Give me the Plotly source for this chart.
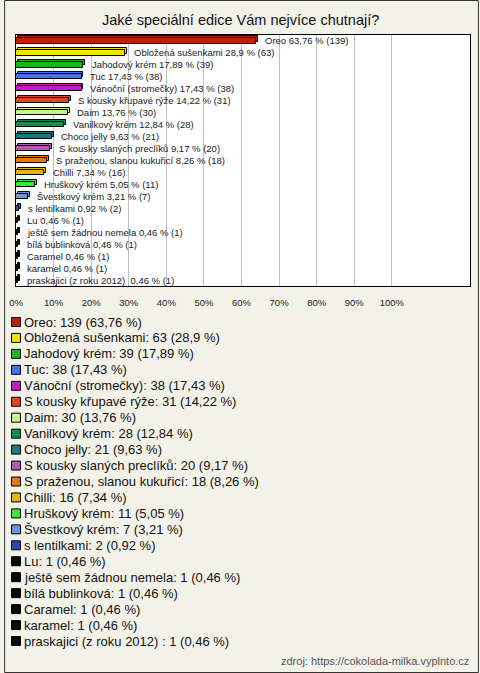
import plotly.graph_objects as go

# ---------------- data ----------------
names = [
    "Oreo", "Obložená sušenkami", "Jahodový krém", "Tuc", "Vánoční (stromečky)",
    "S kousky křupavé rýže", "Daim", "Vanilkový krém", "Choco jelly",
    "S kousky slaných preclíků", "S praženou, slanou kukuřicí", "Chilli",
    "Hruškový krém", "Švestkový krém", "s lentilkami", "Lu",
    "ještě sem žádnou nemela", "bílá bublinková", "Caramel", "karamel",
    "praskajici (z roku 2012) ",
]
counts = [139, 63, 39, 38, 38, 31, 30, 28, 21, 20, 18, 16, 11, 7, 2, 1, 1, 1, 1, 1, 1]
percents = [63.76, 28.9, 17.89, 17.43, 17.43, 14.22, 13.76, 12.84, 9.63, 9.17,
            8.26, 7.34, 5.05, 3.21, 0.92, 0.46, 0.46, 0.46, 0.46, 0.46, 0.46]
colors = [
    "#bf1e0b", "#f5e600", "#19b719", "#4a6ef0", "#c41ac4", "#e2461a", "#c8f58c",
    "#148c50", "#1e7882", "#b45ab4", "#e6780f", "#e6b40f", "#3ce63c", "#6e96dc",
    "#2846b4", "#000000", "#000000", "#000000", "#000000", "#000000", "#000000",
]
tick_vals = [0, 10, 20, 30, 40, 50, 60, 70, 80, 90, 100]
tick_text = ["0%", "10%", "20%", "30%", "40%", "50%", "60%", "70%", "80%", "90%", "100%"]
title = "Jaké speciální edice Vám nejvíce chutnají?"
source = "zdroj: https://cokolada-milka.vyplnto.cz"

# ---------------- layout constants ----------------
W, H = 480, 673
PL, PR, PT, PB = 12, 471, 35, 286  # plot area in px
XMAX = 120.8
FONT = "Liberation Sans, Arial, sans-serif"
BG = "#f3f2e9"
depth = 2 / ((PR - PL) / XMAX)  # 2 px in axis units
bw = 0.44
dy = 0.17


def fmt(p):
    s = f"{p:.2f}".rstrip("0").rstrip(".")
    return s.replace(".", ",")


def xp(px):
    return (px - PL) / (PR - PL)


def yp(py):
    return (PB - py) / (PB - PT)


idx = list(range(len(names)))

fig = go.Figure()
# depth (back) bars
fig.add_trace(go.Bar(
    y=idx, x=percents, base=[depth] * len(idx), orientation="h",
    width=bw, offset=-bw / 2 - dy,
    marker=dict(color=colors, line=dict(color="#000000", width=1)),
    hoverinfo="skip", showlegend=False,
))
# front bars
fig.add_trace(go.Bar(
    y=idx, x=percents, orientation="h",
    width=bw, offset=-bw / 2,
    marker=dict(color=colors, line=dict(color="#000000", width=1)),
    showlegend=False,
))

annotations = []
for i, (n, c, p) in enumerate(zip(names, counts, percents)):
    annotations.append(dict(
        x=p + depth, y=i, xref="x", yref="y", xanchor="left", yanchor="middle",
        xshift=5, yshift=0, showarrow=False,
        text=f"{n} {fmt(p)} % ({c})",
        font=dict(family=FONT, size=9.5, color="#1a1a1a"),
    ))

shapes = []
# legend
for i, (n, c, p, col) in enumerate(zip(names, counts, percents, colors)):
    cy = 322 + i * 15.95
    shapes.append(dict(
        type="rect", xref="paper", yref="paper",
        x0=xp(7.5), x1=xp(16.5), y0=yp(cy + 4.5), y1=yp(cy - 4.5),
        fillcolor=col, line=dict(color="#000000", width=1), layer="above",
    ))
    annotations.append(dict(
        x=xp(18), y=yp(cy), xref="paper", yref="paper", xanchor="left",
        yanchor="middle", showarrow=False,
        text=f"{n}: {c} ({fmt(p)} %)",
        font=dict(family=FONT, size=13, color="#111111"),
    ))

# title
annotations.append(dict(
    x=xp(239), y=yp(20), xref="paper", yref="paper", xanchor="center",
    yanchor="middle", showarrow=False, text=title,
    font=dict(family=FONT, size=14.5, color="#111111"),
))
# source
annotations.append(dict(
    x=xp(472), y=yp(661), xref="paper", yref="paper", xanchor="right",
    yanchor="middle", showarrow=False, text=source,
    font=dict(family=FONT, size=11, color="#555555"),
))

# outer border
shapes.append(dict(
    type="rect", xref="paper", yref="paper",
    x0=xp(0.5), x1=xp(479.5), y0=yp(672.5), y1=yp(0.5),
    line=dict(color="#333333", width=1), fillcolor="rgba(0,0,0,0)",
))

fig.update_layout(
    width=W, height=H,
    margin=dict(l=PL, r=W - PR, t=PT, b=H - PB, pad=0),
    paper_bgcolor=BG, plot_bgcolor="#ffffff",
    barmode="overlay", bargap=0,
    font=dict(family=FONT),
    annotations=annotations, shapes=shapes,
    xaxis=dict(
        range=[0, XMAX], tickvals=tick_vals, ticktext=tick_text,
        showgrid=True, gridcolor="#c0c0c0", gridwidth=1, zeroline=False,
        showline=True, mirror=True, linecolor="#000000", linewidth=1,
        ticks="", ticklabelstandoff=8,
        tickfont=dict(family=FONT, size=9.5, color="#222222"),
        fixedrange=True,
    ),
    yaxis=dict(
        range=[len(names) - 0.5, -0.5], showticklabels=False, showgrid=False,
        zeroline=False, showline=True, mirror=True, linecolor="#000000",
        linewidth=1, ticks="", fixedrange=True,
    ),
    showlegend=False,
)

fig.write_html(
    "out.html",
    config={"displayModeBar": False},
    post_script="document.body.style.margin='0';document.body.style.padding='0';"
                "document.documentElement.style.overflow='hidden';",
)
